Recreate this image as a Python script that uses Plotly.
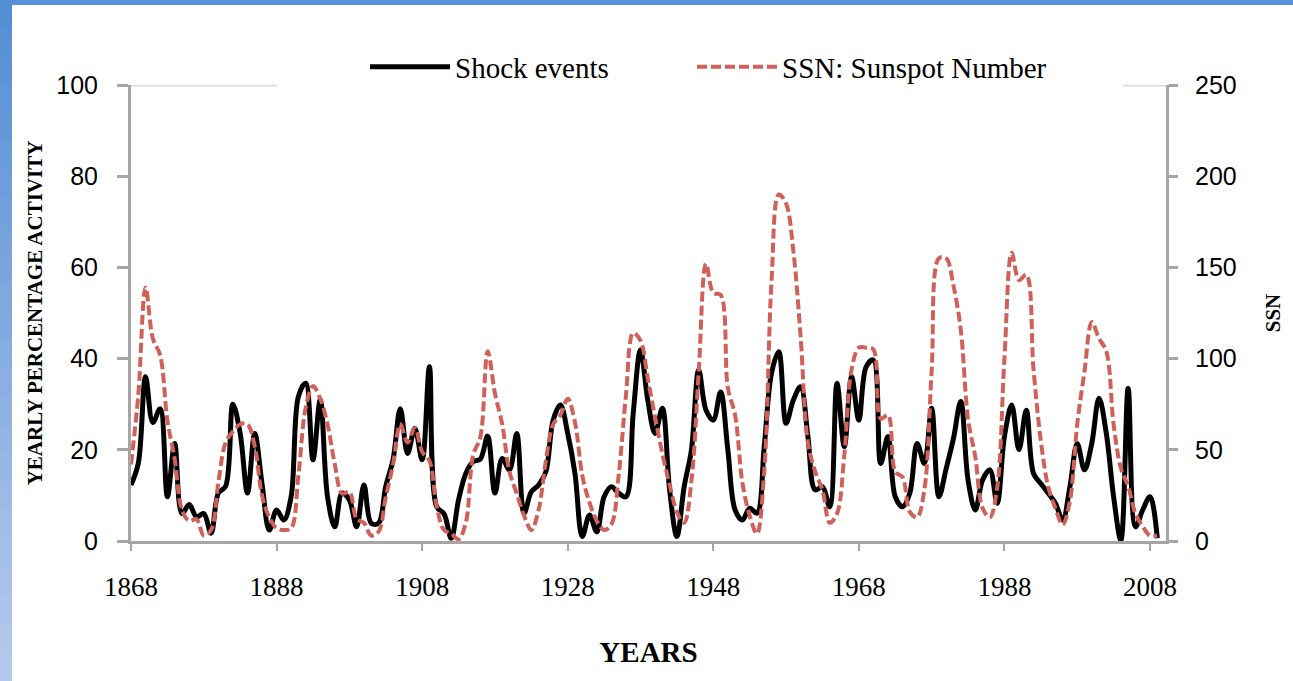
import plotly.graph_objects as go

years = list(range(1868, 2010))

shock_events = [
    12.3, 17, 36, 26, 29, 9.7, 21.4, 6, 8, 5.3,
    6, 1.7, 10.5, 12, 30, 23.6, 10.5, 23.6, 12.6, 2.4,
    6.8, 4.6, 9.7, 31.7, 34.6, 17.8, 31, 9.7, 3.1, 10.5,
    9, 3.1, 12.3, 3.9, 3.9, 12, 17.8, 29, 19.2, 24.7,
    17.8, 38.2, 7.5, 6, 0.6, 9, 14.8, 17.4, 18, 23,
    10.5, 18.1, 15.6, 23.6, 6.1, 10.8, 12.3, 15.2, 26.5, 29.8,
    23.6, 14.8, 1, 5.7, 2, 9.7, 11.9, 10.5, 9.7, 28,
    41.9, 30.9, 23.6, 29.1, 11.2, 1, 11.9, 20, 37.5, 28.7,
    26.5, 32.7, 20, 6.8, 4.6, 7.2, 6.1, 20.7, 36.8, 41.5,
    25.8, 30.9, 33.8, 22.9, 11.2, 11.9, 7.5, 34.6, 20.7, 36,
    26.5, 38.2, 39.7, 17, 22.9, 9.7, 7.5, 10.5, 21.4, 17,
    29.1, 9.7, 15.9, 22.5, 30.6, 13.4, 6.8, 13.4, 15.6, 8.3,
    22.9, 29.8, 20, 28.7, 14.8, 12.6, 10.5, 8.3, 4.6, 11.9,
    21.4, 15.6, 21.4, 31.3, 23.6, 9.7, 0.2, 33.5, 3.1, 6.8,
    9.7, 0.6,
]

sunspot_number = [
    42, 80, 139, 111, 102, 66, 45, 17, 11, 12,
    3, 6, 32, 54, 60, 64, 64, 52, 25, 13,
    7, 6, 7, 36, 73, 85, 78, 64, 42, 26,
    27, 12, 10, 3, 5, 24, 42, 64, 54, 62,
    49, 44, 19, 6, 4, 1, 10, 47, 57, 104,
    81, 64, 38, 26, 14, 6, 17, 44, 64, 69,
    78, 65, 36, 21, 11, 6, 9, 36, 80, 114,
    110, 89, 68, 48, 31, 16, 10, 33, 93, 152,
    136, 135, 84, 69, 32, 14, 4, 38, 142, 190,
    185, 159, 112, 54, 38, 28, 10, 15, 47, 94,
    106, 106, 105, 67, 69, 38, 35, 16, 13, 28,
    93, 155, 155, 140, 116, 67, 46, 18, 13, 29,
    100, 158, 143, 146, 94, 55, 30, 18, 9, 22,
    64, 93, 120, 111, 104, 64, 40, 30, 15, 8,
    3, 3,
]

x_ticks = [1868, 1888, 1908, 1928, 1948, 1968, 1988, 2008]
left_ticks = [0, 20, 40, 60, 80, 100]
right_ticks = [0, 50, 100, 150, 200, 250]

AXIS_GRAY = "#a5a5a5"
RED = "#d0605a"
SERIF = "Liberation Serif"
SANS = "Liberation Sans"

fig = go.Figure()
fig.add_trace(go.Scatter(
    x=years, y=shock_events, name="Shock events", mode="lines",
    line=dict(color="#000000", width=5, shape="spline", smoothing=1.0),
    yaxis="y", legend="legend",
))
fig.add_trace(go.Scatter(
    x=years, y=sunspot_number, name="SSN: Sunspot Number", mode="lines",
    line=dict(color=RED, width=4, dash="10px,4px", shape="spline", smoothing=1.0),
    yaxis="y2", legend="legend2",
))

W, H = 1293, 681
L, R, T, B = 131, 127, 85, 140
pw, ph = W - L - R, H - T - B


def px2x(px):
    return (px - L) / pw


def py2y(py):
    return (H - B - py) / ph


shapes = []
# top blue band
shapes.append(dict(type="rect", xref="paper", yref="paper",
                   x0=px2x(-5), x1=px2x(W + 5), y0=py2y(5), y1=py2y(-5),
                   fillcolor="#5a91d6", line=dict(width=0), layer="above"))
# left gradient band
c0 = (0x56, 0x8e, 0xd5)
c1 = (0xb4, 0xc9, 0xec)
n = 24
for i in range(n):
    t = i / (n - 1)
    col = "rgb(%d,%d,%d)" % tuple(round(a + (b - a) * t) for a, b in zip(c0, c1))
    ya = 0 + i * H / n
    yb = ya + H / n + 1
    shapes.append(dict(type="rect", xref="paper", yref="paper",
                       x0=px2x(-5), x1=px2x(12), y0=py2y(yb), y1=py2y(ya),
                       fillcolor=col, line=dict(width=0), layer="above"))
# top light-gray gridline visible beside legend
for xa, xb in [(120, 277), (1123, 1166)]:
    shapes.append(dict(type="line", xref="paper", yref="y",
                       x0=px2x(xa), x1=px2x(xb), y0=100, y1=100,
                       line=dict(color="#d9d9d9", width=3), layer="below"))

legend_common = dict(
    orientation="h", yanchor="middle", y=py2y(67), xanchor="left",
    font=dict(family=SERIF, size=29, color="black"),
    bgcolor="rgba(255,255,255,0)", itemwidth=80,
)

fig.update_layout(
    width=W, height=H,
    margin=dict(l=L, r=R, t=T, b=B, autoexpand=False),
    paper_bgcolor="white", plot_bgcolor="white",
    showlegend=True,
    legend=dict(legend_common, x=px2x(365)),
    legend2=dict(legend_common, x=px2x(692)),
    xaxis=dict(
        range=[1868, 2010.2], tickmode="array", tickvals=x_ticks,
        ticktext=[str(v) for v in x_ticks],
        showgrid=False, zeroline=False,
        showline=True, linecolor=AXIS_GRAY, linewidth=3,
        ticks="outside", ticklen=7, tickwidth=2, tickcolor=AXIS_GRAY,
        tickfont=dict(family=SERIF, size=27, color="black"),
        ticklabelstandoff=13,
        title=dict(text="<b>YEARS</b>", font=dict(family=SERIF, size=29, color="black"),
                   standoff=41),
    ),
    yaxis=dict(
        range=[0, 100], tickmode="array", tickvals=left_ticks,
        showgrid=False, zeroline=False,
        showline=True, linecolor=AXIS_GRAY, linewidth=3,
        ticks="outside", ticklen=11, tickwidth=3, tickcolor=AXIS_GRAY,
        tickfont=dict(family=SANS, size=25, color="black"),
        ticklabelstandoff=14,
        title=dict(text="<b>YEARLY PERCENTAGE ACTIVITY</b>",
                   font=dict(family=SERIF, size=21, color="black"), standoff=8),
    ),
    yaxis2=dict(
        range=[0, 250], tickmode="array", tickvals=right_ticks,
        overlaying="y", side="right",
        showgrid=False, zeroline=False,
        showline=True, linecolor=AXIS_GRAY, linewidth=3,
        ticks="outside", ticklen=9, tickwidth=3, tickcolor=AXIS_GRAY,
        tickfont=dict(family=SANS, size=25, color="black"),
        ticklabelstandoff=12,
        title=dict(text="<b>SSN</b>", font=dict(family=SERIF, size=21, color="black"),
                   standoff=30),
    ),
    shapes=shapes,
)

fig.write_html("out.html")
